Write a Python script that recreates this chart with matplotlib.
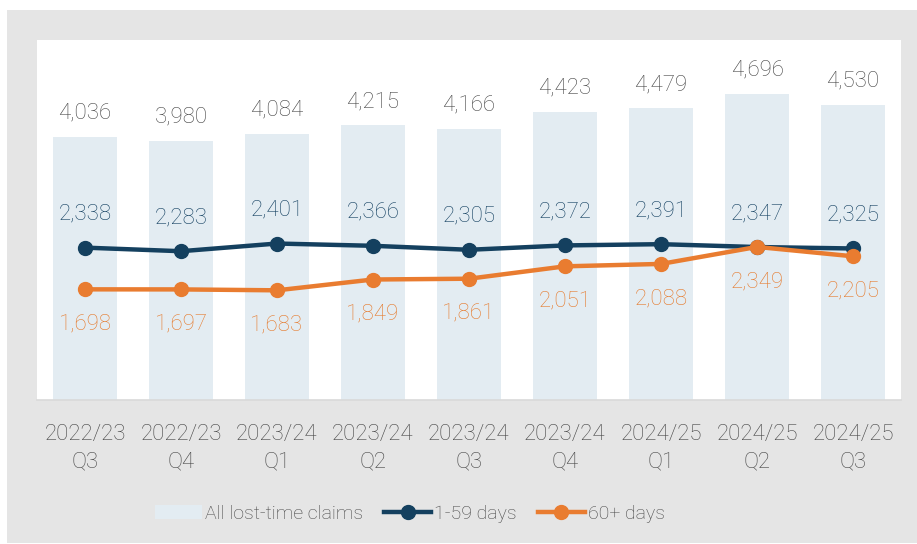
import matplotlib
matplotlib.use("Agg")
import matplotlib.pyplot as plt
from matplotlib.patches import Rectangle
from matplotlib.lines import Line2D
from matplotlib.patches import Patch

categories = ["2022/23\nQ3", "2022/23\nQ4", "2023/24\nQ1", "2023/24\nQ2", "2023/24\nQ3",
              "2023/24\nQ4", "2024/25\nQ1", "2024/25\nQ2", "2024/25\nQ3"]
all_claims = [4036, 3980, 4084, 4215, 4166, 4423, 4479, 4696, 4530]
days_1_59 = [2338, 2283, 2401, 2366, 2305, 2372, 2391, 2347, 2325]
days_60p = [1698, 1697, 1683, 1849, 1861, 2051, 2088, 2349, 2205]

plt.rcParams['font.family'] = ['Roboto', 'DejaVu Sans']
TXT = "#454545"
BAR = "#e3ecf2"
NAVY = "#14405f"
ORANGE = "#e97c30"
ORANGE_TXT = "#e67a2c"
NAVY_TXT = "#123f60"
FS = 16
LFS = 14
WT = "light"

W, H = 917, 544
fig = plt.figure(figsize=(W / 100, H / 100), dpi=100)
fig.patch.set_facecolor("white")
fig.patches.append(Rectangle((7 / W, 1 / H), (917 - 7) / W, (543 - 10) / H,
                             transform=fig.transFigure, facecolor="#e5e5e5",
                             edgecolor="none", zorder=-10))

ax = fig.add_axes([37 / W, (544 - 400) / H, (901 - 37) / W, (400 - 40) / H])
ax.set_zorder(1)
ax.set_facecolor("white")
x = list(range(len(categories)))
ax.bar(x, all_claims, width=0.667, color=BAR, zorder=1)
ax.plot(x, days_1_59, color=NAVY, lw=3.2, marker="o", ms=10, zorder=3)
ax.plot(x, days_60p, color=ORANGE, lw=3.2, marker="o", ms=10, zorder=4)

ax.set_xlim(-0.5, len(categories) - 0.5)
ax.set_ylim(0, 5524)

for xi, v in zip(x, all_claims):
    ax.annotate(f"{v:,}", (xi, v), xytext=(0, 17), textcoords="offset points",
                ha="center", va="center", fontsize=FS, color=TXT, fontweight=WT)
for xi, v in zip(x, days_1_59):
    ax.annotate(f"{v:,}", (xi, v), xytext=(0, 24), textcoords="offset points",
                ha="center", va="center", fontsize=FS, color=NAVY_TXT, fontweight=WT)
for xi, v in zip(x, days_60p):
    ax.annotate(f"{v:,}", (xi, v), xytext=(0, -25), textcoords="offset points",
                ha="center", va="center", fontsize=FS, color=ORANGE_TXT, fontweight=WT)

ax.set_xticks(x)
ax.set_xticklabels(categories, fontsize=FS, color=TXT, fontweight=WT, linespacing=1.45)
ax.tick_params(axis="x", length=0, pad=17)
ax.set_yticks([])
for s in ["top", "right", "left"]:
    ax.spines[s].set_visible(False)
ax.spines["bottom"].set_color("#d9d9d9")
ax.spines["bottom"].set_linewidth(1.2)

handles = [Patch(facecolor=BAR, edgecolor="none"),
           Line2D([], [], color=NAVY, lw=3.2, marker="o", ms=10),
           Line2D([], [], color=ORANGE, lw=3.2, marker="o", ms=10)]
labels = ["All lost-time claims", "1-59 days", "60+ days"]
leg = fig.legend(handles, labels, loc="center", bbox_to_anchor=(410 / W, (544 - 514) / H),
                 ncol=3, frameon=False, fontsize=LFS, handlelength=2.4, handleheight=0.7,
                 handletextpad=0.15, columnspacing=1.1)
for t in leg.get_texts():
    t.set_color(TXT)
    t.set_fontweight(WT)

fig.savefig("out.png", dpi=100, facecolor="white")
